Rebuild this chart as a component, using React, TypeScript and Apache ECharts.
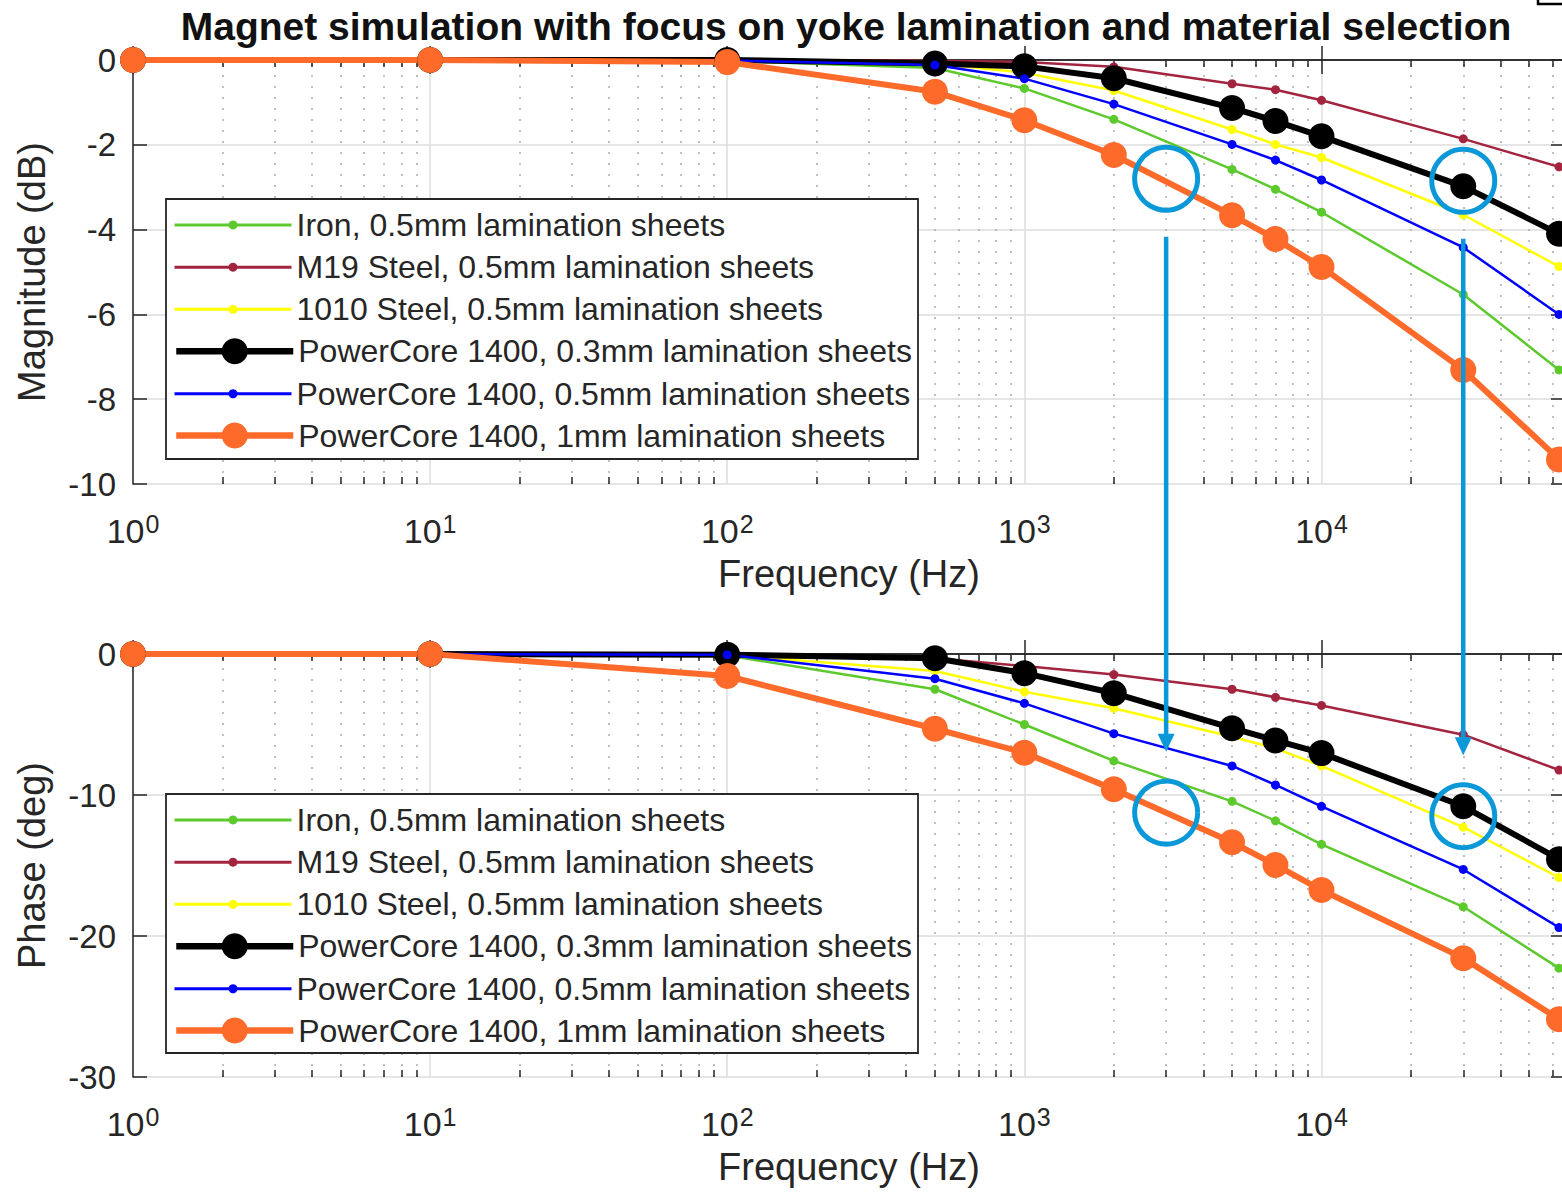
import React, { useEffect, useRef } from "react";
import * as echarts from "echarts";

// ---------- data ----------
const FREQ_HZ = [1, 10, 100, 500, 1000, 2000, 5000, 7000, 10000, 30000, 63000];

const SERIES_NAMES = [
  "Iron, 0.5mm lamination sheets",
  "M19 Steel, 0.5mm lamination sheets",
  "1010 Steel, 0.5mm lamination sheets",
  "PowerCore 1400, 0.3mm lamination sheets",
  "PowerCore 1400, 0.5mm lamination sheets",
  "PowerCore 1400, 1mm lamination sheets",
];

// Magnitude (dB)
const MAG_IRON = [0, 0, -0.02, -0.19, -0.67, -1.4, -2.58, -3.05, -3.59, -5.53, -7.31];
const MAG_M19 = [0, 0, 0, -0.02, -0.05, -0.16, -0.56, -0.7, -0.95, -1.86, -2.52];
const MAG_1010 = [0, 0, 0, -0.08, -0.3, -0.72, -1.64, -1.99, -2.3, -3.65, -4.87];
const MAG_PC03 = [0, 0, 0, -0.08, -0.15, -0.43, -1.13, -1.44, -1.8, -2.98, -4.1];
const MAG_PC05 = [0, 0, -0.01, -0.12, -0.44, -1.04, -1.99, -2.36, -2.83, -4.42, -6.0];
const MAG_PC1 = [0, 0, -0.05, -0.75, -1.42, -2.24, -3.66, -4.22, -4.88, -7.31, -9.42];

// Phase (deg)
const PH_IRON = [0, 0, -0.1, -2.5, -5.0, -7.58, -10.45, -11.83, -13.5, -17.93, -22.28];
const PH_M19 = [0, 0, 0, -0.3, -0.85, -1.46, -2.5, -3.07, -3.65, -5.72, -8.23];
const PH_1010 = [0, 0, -0.05, -1.2, -2.68, -3.85, -5.87, -6.69, -7.93, -12.28, -15.85];
const PH_PC03 = [0, 0, -0.05, -0.3, -1.36, -2.78, -5.26, -6.13, -7.03, -10.8, -14.55];
const PH_PC05 = [0, 0, -0.05, -1.75, -3.5, -5.65, -7.94, -9.29, -10.8, -15.28, -19.4];
const PH_PC1 = [0, 0, -1.56, -5.3, -7.0, -9.6, -13.35, -14.96, -16.74, -21.57, -25.9];

const X_TICK_EXPONENTS = [0, 1, 2, 3, 4];
const MAG_RANGE = [-10, 0, 2]; // min, max, interval
const PHASE_RANGE = [-30, 0, 10];

// annotation anchors (frequency, magnitude, phase)
const ANNOT_FREQ = [3000, 30000];
const ANNOT_MAG = [-2.8, -2.85];
const ANNOT_PHASE = [-11.25, -11.5];

const TITLE = "Magnet simulation with focus on yoke lamination and material selection";

// ---------- styles ----------
const STYLES = [
  { color: "#5cc92c", width: 2.5, size: 9 },
  { color: "#a3243f", width: 2.5, size: 9 },
  { color: "#ffff00", width: 2.5, size: 9 },
  { color: "#000000", width: 6, size: 26 },
  { color: "#0000ff", width: 2.5, size: 9 },
  { color: "#fd6a2a", width: 6, size: 26 },
];

const FONT = "Liberation Sans, Arial, Helvetica, sans-serif";
const AX = "#262626";
const GRID_C = "#dcdcdc";
const ANNOT_C = "#0a98d8";
const X_MIN = 1;
const X_MAX = 66000;
const LEGEND_FONT = 32;

const GRIDS = [
  { top: 60, height: 424 },
  { top: 654, height: 423 },
];

export default function App() {
  const ref = useRef<HTMLDivElement>(null);

  useEffect(() => {
    if (!ref.current) return;
    const chart = echarts.init(ref.current, undefined, { renderer: "svg" });

    const MAG = [MAG_IRON, MAG_M19, MAG_1010, MAG_PC03, MAG_PC05, MAG_PC1];
    const PH = [PH_IRON, PH_M19, PH_1010, PH_PC03, PH_PC05, PH_PC1];
    const ranges = [MAG_RANGE, PHASE_RANGE];

    const minorFreqs: number[] = [];
    for (let d = 0; d <= 4; d++) {
      for (let m = 2; m <= 9; m++) {
        const f = m * Math.pow(10, d);
        if (f < X_MAX) minorFreqs.push(f);
      }
    }

    const minorMarkLine = (g: number) => {
      const [ymin, ymax] = ranges[g];
      const tl = (7 / GRIDS[g].height) * (ymax - ymin);
      const tickStyle = { type: "solid", color: AX, width: 1.5 };
      return {
        silent: true,
        z: 1,
        symbol: ["none", "none"],
        label: { show: false },
        emphasis: { disabled: true },
        animation: false,
        lineStyle: { type: [2, 9], color: "#ababab", width: 1.5 },
        data: [
          ...minorFreqs.map((f) => ({ xAxis: f })),
          ...minorFreqs.map((f) => [
            { coord: [f, ymin], lineStyle: tickStyle },
            { coord: [f, ymin + tl] },
          ]),
          ...minorFreqs.map((f) => [
            { coord: [f, ymax], lineStyle: tickStyle },
            { coord: [f, ymax - tl] },
          ]),
        ],
      };
    };

    const series: any[] = [];
    [MAG, PH].forEach((set, g) => {
      set.forEach((vals, i) => {
        const st = STYLES[i];
        series.push({
          type: "line",
          name: SERIES_NAMES[i],
          xAxisIndex: g * 2,
          yAxisIndex: g * 2,
          data: FREQ_HZ.map((f, k) => [f, vals[k]]),
          symbol: "circle",
          symbolSize: st.size,
          showSymbol: true,
          clip: false,
          silent: true,
          emphasis: { disabled: true },
          lineStyle: { color: st.color, width: st.width },
          itemStyle: { color: st.color, borderWidth: 0 },
          z: 2,
          markLine: i === 0 ? minorMarkLine(g) : undefined,
        });
      });
    });

    const grid = GRIDS.map((gr) => ({
      left: 133,
      top: gr.top,
      width: 1432,
      height: gr.height,
      containLabel: false,
      outerBoundsMode: "none",
    }));

    const xLabelFormatter = (v: number) => {
      const e = Math.log10(v);
      const r = Math.round(e);
      if (Math.abs(e - r) > 1e-6 || X_TICK_EXPONENTS.indexOf(r) < 0) return "";
      return `{b|10}{s|${r}}`;
    };

    const xAxis: any[] = [];
    const yAxis: any[] = [];
    [0, 1].forEach((g) => {
      xAxis.push({
        type: "log",
        logBase: 10,
        gridIndex: g,
        position: "bottom",
        min: X_MIN,
        max: X_MAX,
        name: "Frequency (Hz)",
        nameLocation: "middle",
        nameGap: 71,
        nameTextStyle: { fontSize: 38, color: AX, fontFamily: FONT },
        axisLine: { show: true, lineStyle: { color: AX, width: 1.5 } },
        axisTick: { show: true, inside: true, length: 14, lineStyle: { color: AX, width: 1.5 } },
        axisLabel: {
          show: true,
          margin: 27,
          formatter: xLabelFormatter,
          color: AX,
          fontFamily: FONT,
          rich: {
            b: { fontSize: 34, lineHeight: 40, color: AX, fontFamily: FONT },
            s: { fontSize: 25, lineHeight: 14, verticalAlign: "top", color: AX, fontFamily: FONT, padding: [0, 0, 0, 1] },
          },
        },
        splitLine: { show: true, lineStyle: { color: GRID_C, width: 1.5 } },
        minorTick: { show: false },
      });
      xAxis.push({
        type: "log",
        logBase: 10,
        gridIndex: g,
        position: "top",
        min: X_MIN,
        max: X_MAX,
        axisLine: { show: true, lineStyle: { color: AX, width: 1.5 } },
        axisTick: { show: true, inside: true, length: 14, lineStyle: { color: AX, width: 1.5 } },
        axisLabel: { show: false },
        splitLine: { show: false },
      });
      const [ymin, ymax, step] = ranges[g];
      yAxis.push({
        type: "value",
        gridIndex: g,
        position: "left",
        min: ymin,
        max: ymax,
        interval: step,
        name: g === 0 ? "Magnitude (dB)" : "Phase (deg)",
        nameLocation: "middle",
        nameGap: 82,
        nameTextStyle: { fontSize: 38, color: AX, fontFamily: FONT },
        axisLine: { show: true, lineStyle: { color: AX, width: 1.5 } },
        axisTick: { show: true, inside: true, length: 14, lineStyle: { color: AX, width: 1.5 } },
        axisLabel: { show: true, margin: 17, fontSize: 33, color: AX, fontFamily: FONT },
        splitLine: { show: true, lineStyle: { color: GRID_C, width: 1.5 } },
      });
      yAxis.push({
        type: "value",
        gridIndex: g,
        position: "right",
        min: ymin,
        max: ymax,
        interval: step,
        axisLine: { show: true, lineStyle: { color: AX, width: 1.5 } },
        axisTick: { show: true, inside: true, length: 14, lineStyle: { color: AX, width: 1.5 } },
        axisLabel: { show: false },
        splitLine: { show: false },
      });
    });

    const LEGEND_ROW0 = [224.8, 819.8];
    const LEGEND_STEP = 42.2;
    const TEXT_H = 31.7;
    const legend: any[] = [];
    [0, 1].forEach((g) => {
      SERIES_NAMES.forEach((name, i) => {
        const st = STYLES[i];
        const h = st.size / 0.8;
        legend.push({
          show: true,
          data: [name],
          left: 173,
          top: LEGEND_ROW0[g] + LEGEND_STEP * i - Math.max(h, TEXT_H) / 2,
          orient: "vertical",
          itemWidth: 117,
          itemHeight: h,
          itemGap: 0,
          padding: 0,
          selectedMode: false,
          z: 20,
          lineStyle: { width: st.width + 0.5, color: st.color },
          itemStyle: { color: st.color, borderWidth: 0 },
          textStyle: { fontSize: LEGEND_FONT, color: AX, fontFamily: FONT },
        });
      });
    });

    chart.setOption({
      animation: false,
      backgroundColor: "#ffffff",
      textStyle: { fontFamily: FONT },
      title: {
        text: TITLE,
        left: 846,
        top: 26,
        padding: 0,
        textAlign: "center",
        textVerticalAlign: "middle",
        textStyle: { fontSize: 39, fontWeight: "bold", color: "#111", fontFamily: FONT },
      },
      legend,
      grid,
      xAxis,
      yAxis,
      series,
    });

    // annotations positioned through the axes
    const px = (g: number, x: number, y: number) =>
      chart.convertToPixel({ xAxisIndex: g * 2, yAxisIndex: g * 2 }, [x, y]) as number[];
    const graphics: any[] = [
      {
        type: "rect",
        z: 15,
        shape: { x: 166, y: 199, width: 752, height: 260 },
        style: { fill: "#fff", stroke: AX, lineWidth: 1.8 },
        silent: true,
      },
      {
        type: "rect",
        z: 15,
        shape: { x: 166, y: 794, width: 752, height: 259 },
        style: { fill: "#fff", stroke: AX, lineWidth: 1.8 },
        silent: true,
      },
      {
        type: "polyline",
        z: 30,
        shape: { points: [[1538, 0], [1538, 4], [1562, 4]] },
        style: { stroke: "#000", lineWidth: 2.5, fill: "none" },
        silent: true,
      },
    ];
    ANNOT_FREQ.forEach((f, k) => {
      const a = px(0, f, ANNOT_MAG[k]);
      const b = px(1, f, ANNOT_PHASE[k]);
      const r = 31.5;
      [a, b].forEach((p) => {
        graphics.push({
          type: "circle",
          z: 30,
          shape: { cx: p[0], cy: p[1], r },
          style: { fill: "none", stroke: ANNOT_C, lineWidth: 5 },
          silent: true,
        });
      });
      const y0 = a[1] + 58;
      const tip = b[1] - 61;
      graphics.push({
        type: "line",
        z: 30,
        shape: { x1: a[0], y1: y0, x2: a[0], y2: tip - 14 },
        style: { stroke: ANNOT_C, lineWidth: 4.5 },
        silent: true,
      });
      graphics.push({
        type: "polygon",
        z: 30,
        shape: { points: [[a[0] - 8.5, tip - 18], [a[0] + 8.5, tip - 18], [a[0], tip]] },
        style: { fill: ANNOT_C },
        silent: true,
      });
    });
    chart.setOption({ graphic: graphics });

    return () => chart.dispose();
  }, []);

  return (
    <div
      style={{
        position: "absolute",
        left: 0,
        top: 0,
        width: 1562,
        height: 1195,
        overflow: "hidden",
        background: "#fff",
      }}
    >
      <div ref={ref} style={{ width: 1580, height: 1195 }} />
    </div>
  );
}
